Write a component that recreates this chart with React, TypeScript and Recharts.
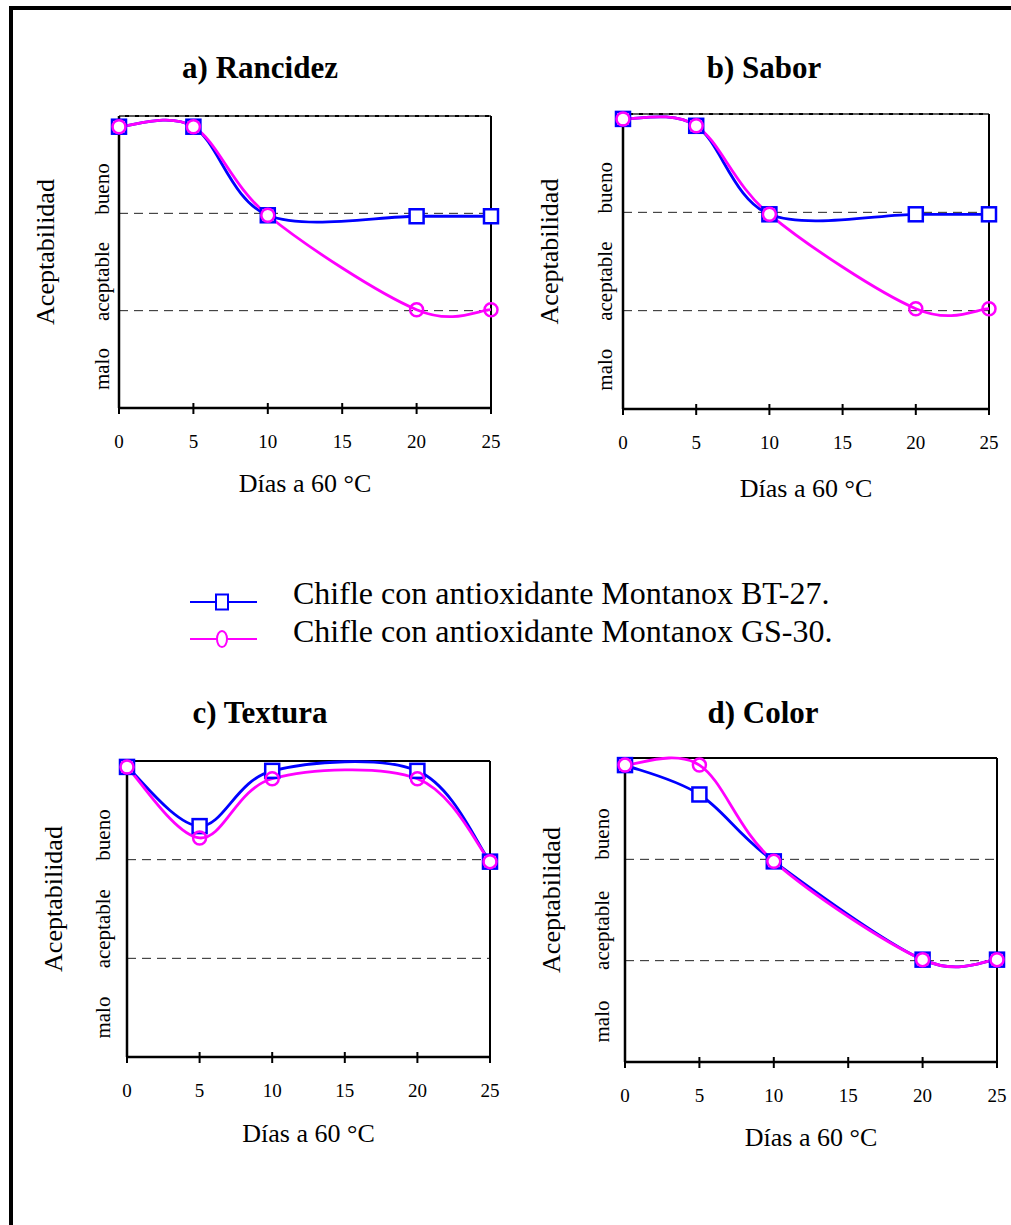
import React from "react";
import { LineChart, Line, XAxis, YAxis, ReferenceLine } from "recharts";

// days at 60 °C and acceptability scores (0-1 malo, 1-2 aceptable, 2-3 bueno)
const days = [0, 5, 10, 20, 25];
const dayTicks = [0, 5, 10, 15, 20, 25];
const qualityTicks = [0.4, 1.3, 2.25];
const qualityLabels = ["malo", "aceptable", "bueno"];
const seriesNames = [
  "Chifle con antioxidante Montanox BT-27.",
  "Chifle con antioxidante Montanox GS-30.",
];

const rancidezBT = [2.89, 2.89, 1.98, 1.97, 1.97];
const rancidezGS = [2.89, 2.89, 1.98, 1.01, 1.01];
const saborBT = [2.95, 2.88, 1.98, 1.98, 1.98];
const saborGS = [2.95, 2.88, 1.98, 1.02, 1.02];
const texturaBT = [2.94, 2.34, 2.9, 2.9, 1.98];
const texturaGS = [2.94, 2.22, 2.82, 2.82, 1.98];
const colorBT = [2.93, 2.64, 1.98, 1.01, 1.01];
const colorGS = [2.93, 2.93, 1.98, 1.01, 1.01];

const SERIF = '"Times New Roman", "Liberation Serif", serif';
const BLUE = "#0000ff";
const PINK = "#ff00ff";

const panels = [
  { title: "a) Rancidez", bt: rancidezBT, gs: rancidezGS, x: 119, y: 116, w: 372, h: 292, tickGap: 17, titleGap: 75, topDashed: true },
  { title: "b) Sabor", bt: saborBT, gs: saborGS, x: 623, y: 114, w: 366, h: 295, tickGap: 18, titleGap: 79, topDashed: true },
  { title: "c) Textura", bt: texturaBT, gs: texturaGS, x: 127, y: 761, w: 363, h: 296, tickGap: 24, titleGap: 76, topDashed: false },
  { title: "d) Color", bt: colorBT, gs: colorGS, x: 625, y: 758, w: 372, h: 304, tickGap: 23, titleGap: 75, topDashed: false },
];

// smoothing like the spreadsheet: bezier through points, control = neighbours diff / 6
const smoothCurve = (context: any) => {
  let pts: number[][] = [];
  return {
    areaStart() {},
    areaEnd() {},
    lineStart() {
      pts = [];
    },
    point(x: number, y: number) {
      pts.push([+x, +y]);
    },
    lineEnd() {
      if (!pts.length) return;
      context.moveTo(pts[0][0], pts[0][1]);
      for (let i = 0; i < pts.length - 1; i++) {
        const p0 = pts[i - 1] || pts[i];
        const p1 = pts[i];
        const p2 = pts[i + 1];
        const p3 = pts[i + 2] || p2;
        context.bezierCurveTo(
          p1[0] + (p2[0] - p0[0]) / 6,
          p1[1] + (p2[1] - p0[1]) / 6,
          p2[0] - (p3[0] - p1[0]) / 6,
          p2[1] - (p3[1] - p1[1]) / 6,
          p2[0],
          p2[1]
        );
      }
    },
  };
};

const squareDot = (p: any) => (
  <rect key={`sq-${p.index}`} x={p.cx - 7} y={p.cy - 7} width={14} height={14} fill="#fff" stroke={BLUE} strokeWidth={2.5} />
);

const circleDot = (p: any) => (
  <circle key={`ci-${p.index}`} cx={p.cx} cy={p.cy} r={6.5} fill="#fff" fillOpacity={0} stroke={PINK} strokeWidth={2.5} />
);

const xTick = (p: any) => (
  <g>
    <line x1={p.x} x2={p.x} y1={p.y - 5} y2={p.y + 6} stroke="#000" strokeWidth={2} />
    <text x={p.x} y={p.y + 33} textAnchor="middle" dominantBaseline="central" fontFamily={SERIF} fontSize={19} fill="#000">
      {p.payload.value}
    </text>
  </g>
);

const yTick = (p: any) => {
  const idx = qualityTicks.indexOf(p.payload.value);
  return (
    <text
      x={p.x}
      y={p.y}
      transform={`rotate(-90 ${p.x} ${p.y})`}
      textAnchor="middle"
      dominantBaseline="central"
      fontFamily={SERIF}
      fontSize={21}
      fill="#000"
    >
      {qualityLabels[idx]}
    </text>
  );
};

const Panel = ({ p }: { p: any }) => {
  const rows = days.map((day, i) => ({ day, bt: p.bt[i], gs: p.gs[i] }));
  const yTitle = (props: any) => {
    const vb = props.viewBox || { x: 0, y: 10, width: 110, height: p.h };
    const cx = vb.x + vb.width - 74;
    const cy = vb.y + vb.height / 2 - 10;
    return (
      <text x={cx} y={cy} transform={`rotate(-90 ${cx} ${cy})`} textAnchor="middle" dominantBaseline="central" fontFamily={SERIF} fontSize={26} fill="#000">
        Aceptabilidad
      </text>
    );
  };
  const xTitle = (props: any) => {
    const vb = props.viewBox || { x: 110, y: p.h + 10, width: p.w, height: 100 };
    return (
      <text x={vb.x + vb.width / 2} y={vb.y + p.titleGap} textAnchor="middle" dominantBaseline="central" fontFamily={SERIF} fontSize={26} fill="#000">
        Días a 60 °C
      </text>
    );
  };
  return (
    <div style={{ position: "absolute", left: p.x - 110, top: p.y - 10 }}>
      <LineChart width={p.w + 130} height={p.h + 110} data={rows} margin={{ top: 10, right: 20, bottom: 0, left: 0 }}>
        <XAxis
          type="number"
          dataKey="day"
          domain={[0, 25]}
          ticks={dayTicks}
          interval={0}
          height={100}
          tickSize={0}
          tickMargin={0}
          tickLine={false}
          axisLine={{ stroke: "#000", strokeWidth: 2.5 }}
          tick={xTick}
          label={xTitle}
        />
        <YAxis
          type="number"
          domain={[0, 3]}
          ticks={qualityTicks}
          interval={0}
          width={110}
          tickSize={0}
          tickMargin={p.tickGap}
          tickLine={false}
          axisLine={{ stroke: "#000", strokeWidth: 2.5 }}
          tick={yTick}
          label={yTitle}
        />
        <ReferenceLine y={1} stroke="#222" strokeDasharray="9 6" />
        <ReferenceLine y={2} stroke="#222" strokeDasharray="9 6" />
        <ReferenceLine y={3} stroke="#000" strokeWidth={2} />
        {p.topDashed && <ReferenceLine y={3} stroke="#bbb" strokeDasharray="6 4" />}
        <ReferenceLine x={25} stroke="#000" strokeWidth={2} />
        <Line dataKey="bt" type={smoothCurve as any} stroke={BLUE} strokeWidth={2.8} dot={squareDot} activeDot={false} isAnimationActive={false} />
        <Line dataKey="gs" type={smoothCurve as any} stroke={PINK} strokeWidth={2.8} dot={circleDot} activeDot={false} isAnimationActive={false} />
      </LineChart>
    </div>
  );
};

const titlePos = [
  [260, 67],
  [764, 67],
  [260, 712],
  [763, 712],
];

export default function App() {
  return (
    <div style={{ position: "absolute", left: 0, top: 0, width: 1011, height: 1225, background: "#fff", overflow: "hidden" }}>
      <svg width={1011} height={1225} style={{ position: "absolute", left: 0, top: 0 }}>
        <line x1={9} y1={8} x2={1011} y2={8} stroke="#000" strokeWidth={4} />
        <line x1={11} y1={6} x2={11} y2={1225} stroke="#000" strokeWidth={4} />
        {panels.map((p, i) => (
          <text key={p.title} x={titlePos[i][0]} y={titlePos[i][1]} textAnchor="middle" dominantBaseline="central" fontFamily={SERIF} fontWeight="bold" fontSize={31} fill="#000">
            {p.title}
          </text>
        ))}
        <line x1={190} y1={602} x2={257} y2={602} stroke={BLUE} strokeWidth={2} />
        <rect x={216} y={594.5} width={12} height={15} fill="#fff" stroke={BLUE} strokeWidth={2} />
        <line x1={190} y1={639} x2={257} y2={639} stroke={PINK} strokeWidth={2} />
        <ellipse cx={222} cy={639} rx={5} ry={8} fill="#fff" stroke={PINK} strokeWidth={2} />
        <text x={293} y={604} fontFamily={SERIF} fontSize={32} fill="#000">
          {seriesNames[0]}
        </text>
        <text x={293} y={642} fontFamily={SERIF} fontSize={32} fill="#000">
          {seriesNames[1]}
        </text>
      </svg>
      {panels.map((p) => (
        <Panel key={p.title} p={p} />
      ))}
    </div>
  );
}
